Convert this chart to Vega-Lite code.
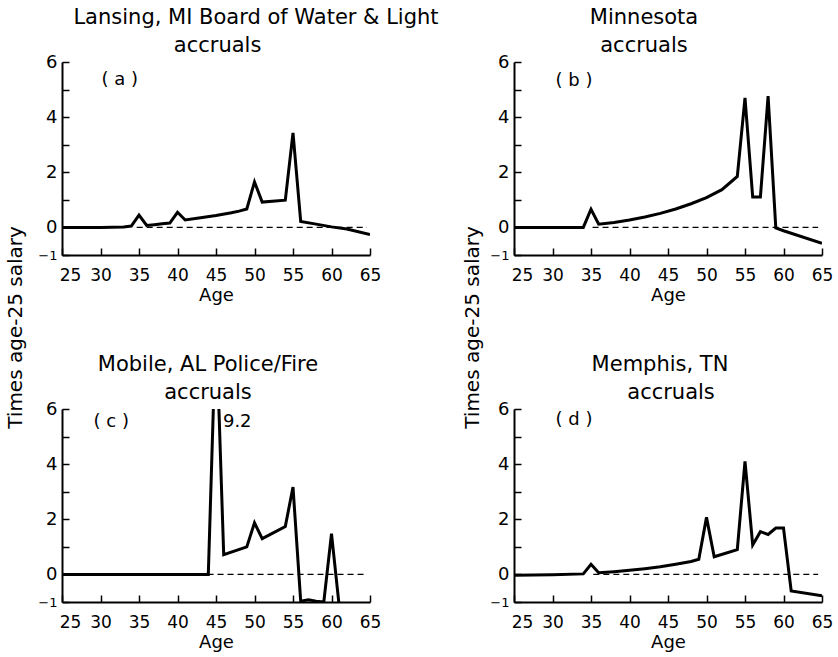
{
  "$schema": "https://vega.github.io/schema/vega-lite/v6.json",
  "background": "white",
  "padding": {"left": 5, "top": 7, "right": 5, "bottom": 5},
  "datasets": {
    "a": [
      {"age": 25, "v": 0}, {"age": 30, "v": 0}, {"age": 33, "v": 0.02}, {"age": 34, "v": 0.05},
      {"age": 35, "v": 0.45}, {"age": 36, "v": 0.07}, {"age": 37, "v": 0.1}, {"age": 38, "v": 0.13},
      {"age": 39, "v": 0.16}, {"age": 40, "v": 0.55}, {"age": 41, "v": 0.27}, {"age": 43, "v": 0.35},
      {"age": 45, "v": 0.43}, {"age": 47, "v": 0.53}, {"age": 48, "v": 0.59}, {"age": 49, "v": 0.67},
      {"age": 50, "v": 1.65}, {"age": 51, "v": 0.92}, {"age": 54, "v": 0.99}, {"age": 55, "v": 3.43},
      {"age": 56, "v": 0.22}, {"age": 58, "v": 0.12}, {"age": 60, "v": 0.02}, {"age": 62, "v": -0.06},
      {"age": 65, "v": -0.26}
    ],
    "b": [
      {"age": 25, "v": 0}, {"age": 34, "v": 0}, {"age": 35, "v": 0.66}, {"age": 36, "v": 0.12},
      {"age": 38, "v": 0.18}, {"age": 40, "v": 0.27}, {"age": 42, "v": 0.38}, {"age": 44, "v": 0.51},
      {"age": 46, "v": 0.67}, {"age": 48, "v": 0.86}, {"age": 50, "v": 1.08}, {"age": 52, "v": 1.37},
      {"age": 54, "v": 1.85}, {"age": 55, "v": 4.7}, {"age": 56, "v": 1.1}, {"age": 57, "v": 1.1},
      {"age": 58, "v": 4.76}, {"age": 59, "v": -0.02}, {"age": 60, "v": -0.12}, {"age": 65, "v": -0.58}
    ],
    "c": [
      {"age": 25, "v": 0}, {"age": 44, "v": 0}, {"age": 45, "v": 9.2}, {"age": 46, "v": 0.72},
      {"age": 49, "v": 1.0}, {"age": 50, "v": 1.87}, {"age": 51, "v": 1.3}, {"age": 54, "v": 1.74},
      {"age": 55, "v": 3.17}, {"age": 56, "v": -0.97}, {"age": 57, "v": -0.92}, {"age": 58, "v": -0.97},
      {"age": 59, "v": -1.0}, {"age": 60, "v": 1.48}, {"age": 61, "v": -1.15}
    ],
    "d": [
      {"age": 25, "v": -0.03}, {"age": 30, "v": -0.01}, {"age": 34, "v": 0.02}, {"age": 35, "v": 0.37},
      {"age": 36, "v": 0.06}, {"age": 38, "v": 0.1}, {"age": 40, "v": 0.15}, {"age": 42, "v": 0.21},
      {"age": 44, "v": 0.28}, {"age": 46, "v": 0.37}, {"age": 48, "v": 0.47}, {"age": 49, "v": 0.55},
      {"age": 50, "v": 2.07}, {"age": 51, "v": 0.64}, {"age": 54, "v": 0.9}, {"age": 55, "v": 4.1},
      {"age": 56, "v": 1.07}, {"age": 57, "v": 1.55}, {"age": 58, "v": 1.45}, {"age": 59, "v": 1.68},
      {"age": 60, "v": 1.68}, {"age": 61, "v": -0.6}, {"age": 65, "v": -0.77}
    ],
    "zero": [
      {"panel": "a", "from": 34.7, "to": 64.6},
      {"panel": "b", "from": 35.2, "to": 64.5},
      {"panel": "c", "from": 43.9, "to": 64.6},
      {"panel": "d", "from": 35.3, "to": 64.5}
    ],
    "labels": [
      {"panel": "a", "text": "( a )"},
      {"panel": "b", "text": "( b )"},
      {"panel": "c", "text": "( c )"},
      {"panel": "d", "text": "( d )"},
      {"panel": "c", "text": "9.2"}
    ]
  },
  "columns": 2,
  "spacing": {"row": 154, "column": 144},
  "bounds": "flush",
  "concat": [
    {
      "width": 308, "height": 193,
      "title": {"text": "Lansing, MI Board of Water & Light", "subtitle": "accruals\u2800\u2800\u2800\u2800\u2800", "dx": 40},
      "layer": [
        {
          "data": {"name": "zero"},
          "transform": [{"filter": "datum.panel == 'a'"}],
          "mark": {"type": "rule", "color": "black", "strokeWidth": 1.2, "strokeDash": [6, 4]},
          "encoding": {
            "x": {"field": "from", "type": "quantitative", "scale": {"domain": [25, 65], "nice": false}},
            "x2": {"field": "to"},
            "y": {"datum": 0, "type": "quantitative", "scale": {"domain": [-1, 6], "nice": false}}
          }
        },
        {
          "data": {"name": "a"},
          "mark": {"type": "line", "color": "black", "strokeWidth": 3, "clip": true},
          "encoding": {
            "x": {"field": "age", "type": "quantitative", "scale": {"domain": [25, 65], "nice": false},
              "axis": {"title": "Age", "values": [25, 30, 35, 40, 45, 50, 55, 60, 65], "tickCount": 20, "format": "d", "labelOverlap": false,
                "labelOffset": {"condition": {"test": "datum.value == 25", "value": 8}, "value": 0}}},
            "y": {"field": "v", "type": "quantitative", "scale": {"domain": [-1, 6], "nice": false},
              "axis": {"title": "Times age-25 salary", "titleX": -47, "titleY": 265, "titleBaseline": "middle", "titleAlign": "center",
                "values": [-1, 0, 1, 2, 3, 4, 5, 6], "tickCount": 20, "format": "d", "labelOverlap": false,
                "labelExpr": "datum.value == 1 || datum.value == 3 || datum.value == 5 ? '' : datum.label",
                "labelFontSize": {"condition": {"test": "datum.value == -1", "value": 13}, "value": 18}}}
          }
        },
        {
          "data": {"name": "labels"},
          "transform": [{"filter": "datum.panel == 'a'"}],
          "mark": {"type": "text", "fontSize": 18, "font": "DejaVu Sans", "color": "black"},
          "encoding": {"x": {"datum": 32.5, "type": "quantitative"}, "y": {"datum": 5.33, "type": "quantitative"}, "text": {"field": "text"}}
        }
      ]
    },
    {
      "width": 308, "height": 193,
      "title": {"text": "Minnesota", "subtitle": "accruals", "dx": -24},
      "layer": [
        {
          "data": {"name": "zero"},
          "transform": [{"filter": "datum.panel == 'b'"}],
          "mark": {"type": "rule", "color": "black", "strokeWidth": 1.2, "strokeDash": [6, 4]},
          "encoding": {
            "x": {"field": "from", "type": "quantitative", "scale": {"domain": [25, 65], "nice": false}},
            "x2": {"field": "to"},
            "y": {"datum": 0, "type": "quantitative", "scale": {"domain": [-1, 6], "nice": false}}
          }
        },
        {
          "data": {"name": "b"},
          "mark": {"type": "line", "color": "black", "strokeWidth": 3, "clip": true},
          "encoding": {
            "x": {"field": "age", "type": "quantitative", "scale": {"domain": [25, 65], "nice": false},
              "axis": {"title": "Age", "values": [25, 30, 35, 40, 45, 50, 55, 60, 65], "tickCount": 20, "format": "d", "labelOverlap": false,
                "labelOffset": {"condition": {"test": "datum.value == 25", "value": 8}, "value": 0}}},
            "y": {"field": "v", "type": "quantitative", "scale": {"domain": [-1, 6], "nice": false},
              "axis": {"title": "Times age-25 salary", "titleX": -42, "titleY": 265, "titleBaseline": "middle", "titleAlign": "center",
                "values": [-1, 0, 1, 2, 3, 4, 5, 6], "tickCount": 20, "format": "d", "labelOverlap": false,
                "labelExpr": "datum.value == 1 || datum.value == 3 || datum.value == 5 ? '' : datum.label",
                "labelFontSize": {"condition": {"test": "datum.value == -1", "value": 13}, "value": 18}}}
          }
        },
        {
          "data": {"name": "labels"},
          "transform": [{"filter": "datum.panel == 'b'"}],
          "mark": {"type": "text", "fontSize": 18, "font": "DejaVu Sans", "color": "black"},
          "encoding": {"x": {"datum": 32.8, "type": "quantitative"}, "y": {"datum": 5.3, "type": "quantitative"}, "text": {"field": "text"}}
        }
      ]
    },
    {
      "width": 308, "height": 193,
      "title": {"text": "Mobile, AL Police/Fire", "subtitle": "accruals", "dx": -8},
      "layer": [
        {
          "data": {"name": "zero"},
          "transform": [{"filter": "datum.panel == 'c'"}],
          "mark": {"type": "rule", "color": "black", "strokeWidth": 1.2, "strokeDash": [6, 4]},
          "encoding": {
            "x": {"field": "from", "type": "quantitative", "scale": {"domain": [25, 65], "nice": false}},
            "x2": {"field": "to"},
            "y": {"datum": 0, "type": "quantitative", "scale": {"domain": [-1, 6], "nice": false}}
          }
        },
        {
          "data": {"name": "c"},
          "mark": {"type": "line", "color": "black", "strokeWidth": 3, "clip": true},
          "encoding": {
            "x": {"field": "age", "type": "quantitative", "scale": {"domain": [25, 65], "nice": false},
              "axis": {"title": "Age", "values": [25, 30, 35, 40, 45, 50, 55, 60, 65], "tickCount": 20, "format": "d", "labelOverlap": false,
                "labelOffset": {"condition": {"test": "datum.value == 25", "value": 8}, "value": 0}}},
            "y": {"field": "v", "type": "quantitative", "scale": {"domain": [-1, 6], "nice": false},
              "axis": {"title": null,
                "values": [-1, 0, 1, 2, 3, 4, 5, 6], "tickCount": 20, "format": "d", "labelOverlap": false,
                "labelExpr": "datum.value == 1 || datum.value == 3 || datum.value == 5 ? '' : datum.label",
                "labelFontSize": {"condition": {"test": "datum.value == -1", "value": 13}, "value": 18}}}
          }
        },
        {
          "data": {"name": "labels"},
          "transform": [{"filter": "datum.panel == 'c' && datum.text != '9.2'"}],
          "mark": {"type": "text", "fontSize": 18, "font": "DejaVu Sans", "color": "black"},
          "encoding": {"x": {"datum": 31.4, "type": "quantitative"}, "y": {"datum": 5.54, "type": "quantitative"}, "text": {"field": "text"}}
        },
        {
          "data": {"name": "labels"},
          "transform": [{"filter": "datum.text == '9.2'"}],
          "mark": {"type": "text", "fontSize": 18, "font": "DejaVu Sans", "color": "black", "align": "left"},
          "encoding": {"x": {"datum": 45.9, "type": "quantitative"}, "y": {"datum": 5.54, "type": "quantitative"}, "text": {"field": "text"}}
        }
      ]
    },
    {
      "width": 308, "height": 193,
      "title": {"text": "Memphis, TN", "subtitle": "\u2800\u00a0accruals", "dx": -8},
      "layer": [
        {
          "data": {"name": "zero"},
          "transform": [{"filter": "datum.panel == 'd'"}],
          "mark": {"type": "rule", "color": "black", "strokeWidth": 1.2, "strokeDash": [6, 4]},
          "encoding": {
            "x": {"field": "from", "type": "quantitative", "scale": {"domain": [25, 65], "nice": false}},
            "x2": {"field": "to"},
            "y": {"datum": 0, "type": "quantitative", "scale": {"domain": [-1, 6], "nice": false}}
          }
        },
        {
          "data": {"name": "d"},
          "mark": {"type": "line", "color": "black", "strokeWidth": 3, "clip": true},
          "encoding": {
            "x": {"field": "age", "type": "quantitative", "scale": {"domain": [25, 65], "nice": false},
              "axis": {"title": "Age", "values": [25, 30, 35, 40, 45, 50, 55, 60, 65], "tickCount": 20, "format": "d", "labelOverlap": false,
                "labelOffset": {"condition": {"test": "datum.value == 25", "value": 8}, "value": 0}}},
            "y": {"field": "v", "type": "quantitative", "scale": {"domain": [-1, 6], "nice": false},
              "axis": {"title": null,
                "values": [-1, 0, 1, 2, 3, 4, 5, 6], "tickCount": 20, "format": "d", "labelOverlap": false,
                "labelExpr": "datum.value == 1 || datum.value == 3 || datum.value == 5 ? '' : datum.label",
                "labelFontSize": {"condition": {"test": "datum.value == -1", "value": 13}, "value": 18}}}
          }
        },
        {
          "data": {"name": "labels"},
          "transform": [{"filter": "datum.panel == 'd'"}],
          "mark": {"type": "text", "fontSize": 18, "font": "DejaVu Sans", "color": "black"},
          "encoding": {"x": {"datum": 32.8, "type": "quantitative"}, "y": {"datum": 5.6, "type": "quantitative"}, "text": {"field": "text"}}
        }
      ]
    }
  ],
  "config": {
    "font": "DejaVu Sans",
    "view": {"stroke": null},
    "title": {"font": "DejaVu Sans", "fontSize": 21, "fontWeight": "normal", "color": "black", "offset": -3, "anchor": "middle",
      "subtitleFont": "DejaVu Sans", "subtitleFontSize": 21, "subtitleColor": "black", "subtitlePadding": 7},
    "axis": {
      "grid": false,
      "domainColor": "black", "domainWidth": 2,
      "tickColor": "black", "tickWidth": 1.5, "tickSize": -7,
      "labelFont": "DejaVu Sans", "labelFontSize": 17, "labelColor": "black",
      "labelOverlap": false, "labelBound": false,
      "titleFont": "DejaVu Sans", "titleFontWeight": "normal", "titleColor": "black"
    },
    "axisX": {"labelPadding": 19, "titleFontSize": 18, "titlePadding": 3, "labelFlush": false},
    "axisY": {"labelPadding": 12, "titleFontSize": 20, "labelBaseline": "middle"}
  }
}
